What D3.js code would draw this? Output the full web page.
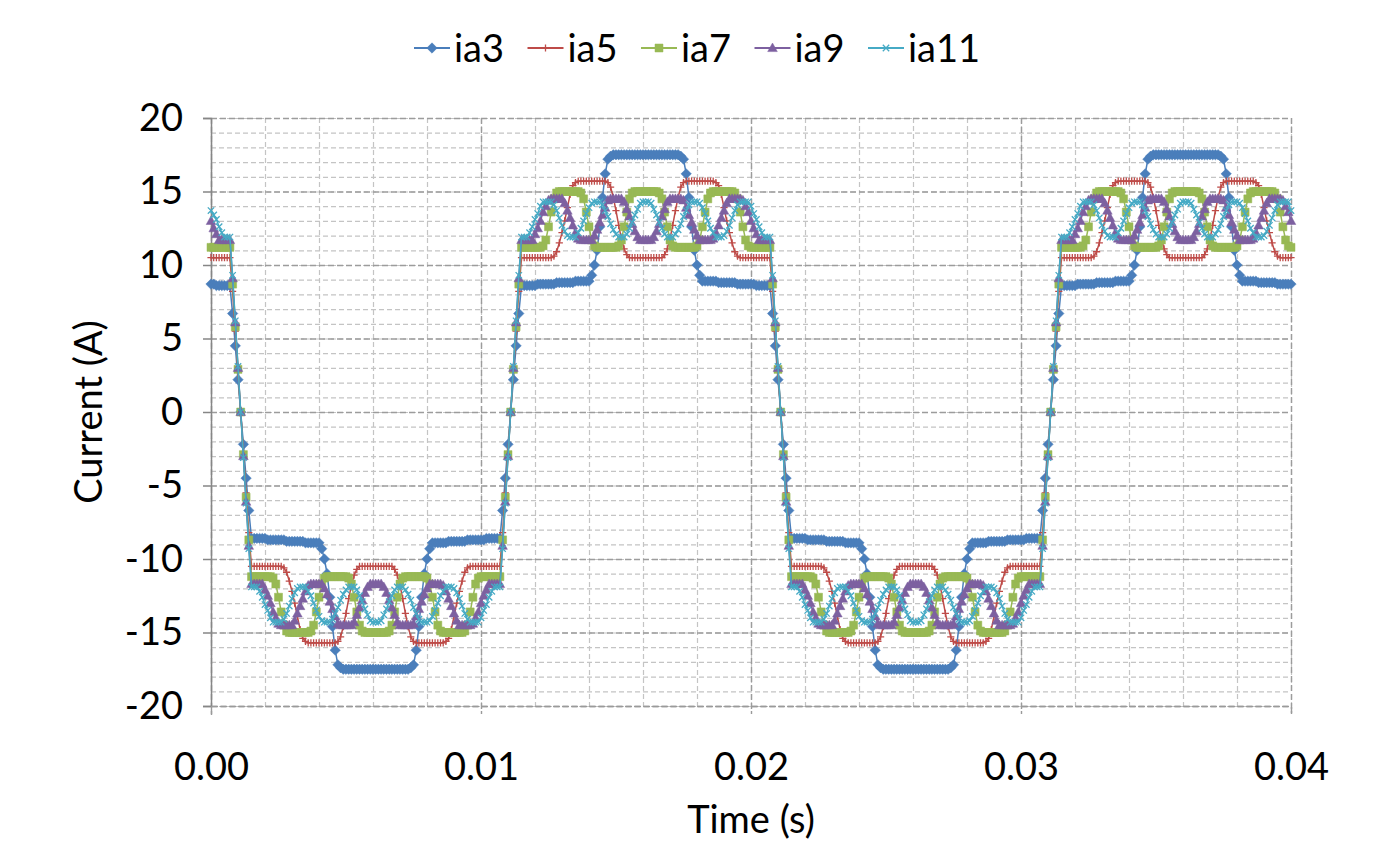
<!DOCTYPE html>
<html>
<head>
<meta charset="utf-8">
<script src="https://cdnjs.cloudflare.com/ajax/libs/d3/7.8.5/d3.min.js"></script>
<style>
  body { margin: 0; background: #fff; }
  text { font-family: Lato, "Open Sans", sans-serif; fill: #000; }
</style>
</head>
<body>
<div id="plot"></div>
<script>
// sample grid: 0 .. 0.04 s, step 0.1 ms
const dt = 0.0001;
const time = d3.range(401).map(i => +(i * dt).toFixed(4));

const ia3 = [
8.7,8.7,8.6,8.6,8.6,8.6,8.6,8.6,6.7,4.5,2.2,
0,-2.2,-4.5,-6.7,-8.6,-8.6,-8.6,-8.6,-8.6,-8.6,-8.7,-8.7,-8.7,-8.7,-8.7,-8.7,-8.7,-8.8,-8.8,-8.8,-8.8,-8.8,-8.8,-8.8,-8.9,-8.9,-8.9,-8.9,-8.9,-8.9,-9.3,-10,-11,-12.6,-14.6,-16.2,-17.2,-17.4,-17.5,-17.5,-17.5,-17.5,-17.5,-17.5,-17.5,-17.5,-17.5,-17.5,-17.5,-17.5,-17.5,
-17.5,-17.5,-17.5,-17.5,-17.5,-17.5,-17.5,-17.5,-17.5,-17.5,-17.5,-17.5,-17.4,-17.2,-16.2,-14.6,-12.6,-11,-10,-9.3,-8.9,-8.9,-8.9,-8.9,-8.9,-8.9,-8.8,-8.8,-8.8,-8.8,-8.8,-8.8,-8.8,-8.7,-8.7,-8.7,-8.7,-8.7,-8.7,-8.7,-8.6,-8.6,-8.6,-8.6,-8.6,-8.6,-6.7,-4.5,-2.2,
0,2.2,4.5,6.7,8.6,8.6,8.6,8.6,8.6,8.6,8.7,8.7,8.7,8.7,8.7,8.7,8.7,8.8,8.8,8.8,8.8,8.8,8.8,8.8,8.9,8.9,8.9,8.9,8.9,8.9,9.3,10,11,12.6,14.6,16.2,17.2,17.4,17.5,17.5,17.5,17.5,17.5,17.5,17.5,17.5,17.5,17.5,17.5,17.5,17.5,
17.5,17.5,17.5,17.5,17.5,17.5,17.5,17.5,17.5,17.5,17.5,17.5,17.4,17.2,16.2,14.6,12.6,11,10,9.3,8.9,8.9,8.9,8.9,8.9,8.9,8.8,8.8,8.8,8.8,8.8,8.8,8.8,8.7,8.7,8.7,8.7,8.7,8.7,8.7,8.6,8.6,8.6,8.6,8.6,8.6,6.7,4.5,2.2,
0,-2.2,-4.5,-6.7,-8.6,-8.6,-8.6,-8.6,-8.6,-8.6,-8.7,-8.7,-8.7,-8.7,-8.7,-8.7,-8.7,-8.8,-8.8,-8.8,-8.8,-8.8,-8.8,-8.8,-8.9,-8.9,-8.9,-8.9,-8.9,-8.9,-9.3,-10,-11,-12.6,-14.6,-16.2,-17.2,-17.4,-17.5,-17.5,-17.5,-17.5,-17.5,-17.5,-17.5,-17.5,-17.5,-17.5,-17.5,-17.5,-17.5,
-17.5,-17.5,-17.5,-17.5,-17.5,-17.5,-17.5,-17.5,-17.5,-17.5,-17.5,-17.5,-17.4,-17.2,-16.2,-14.6,-12.6,-11,-10,-9.3,-8.9,-8.9,-8.9,-8.9,-8.9,-8.9,-8.8,-8.8,-8.8,-8.8,-8.8,-8.8,-8.8,-8.7,-8.7,-8.7,-8.7,-8.7,-8.7,-8.7,-8.6,-8.6,-8.6,-8.6,-8.6,-8.6,-6.7,-4.5,-2.2,
0,2.2,4.5,6.7,8.6,8.6,8.6,8.6,8.6,8.6,8.7,8.7,8.7,8.7,8.7,8.7,8.7,8.8,8.8,8.8,8.8,8.8,8.8,8.8,8.9,8.9,8.9,8.9,8.9,8.9,9.3,10,11,12.6,14.6,16.2,17.2,17.4,17.5,17.5,17.5,17.5,17.5,17.5,17.5,17.5,17.5,17.5,17.5,17.5,17.5,
17.5,17.5,17.5,17.5,17.5,17.5,17.5,17.5,17.5,17.5,17.5,17.5,17.4,17.2,16.2,14.6,12.6,11,10,9.3,8.9,8.9,8.9,8.9,8.9,8.9,8.8,8.8,8.8,8.8,8.8,8.8,8.8,8.7,8.7,8.7,8.7,8.7,8.7
];

const ia5 = [
10.5,10.5,10.5,10.5,10.5,10.5,10.5,10.5,8.2,5.5,2.7,
0,-2.7,-5.5,-8.2,-10.5,-10.5,-10.5,-10.5,-10.5,-10.5,-10.5,-10.5,-10.5,-10.5,-10.5,-10.5,-10.6,-10.9,-11.5,-12.2,-13,-13.9,-14.8,-15.4,-15.6,-15.7,-15.7,-15.7,-15.7,-15.7,-15.7,-15.7,-15.7,-15.7,-15.7,-15.7,-15.6,-15.3,-14.6,-13.7,-12.7,-11.8,-11.1,-10.7,-10.5,-10.5,-10.5,-10.5,-10.5,-10.5,-10.5,
-10.5,-10.5,-10.5,-10.5,-10.5,-10.5,-10.7,-11.1,-11.8,-12.7,-13.7,-14.6,-15.3,-15.6,-15.7,-15.7,-15.7,-15.7,-15.7,-15.7,-15.7,-15.7,-15.7,-15.7,-15.7,-15.6,-15.4,-14.8,-13.9,-13,-12.2,-11.5,-10.9,-10.6,-10.5,-10.5,-10.5,-10.5,-10.5,-10.5,-10.5,-10.5,-10.5,-10.5,-10.5,-10.5,-8.2,-5.5,-2.7,
0,2.7,5.5,8.2,10.5,10.5,10.5,10.5,10.5,10.5,10.5,10.5,10.5,10.5,10.5,10.5,10.6,10.9,11.5,12.2,13,13.9,14.8,15.4,15.6,15.7,15.7,15.7,15.7,15.7,15.7,15.7,15.7,15.7,15.7,15.7,15.6,15.3,14.6,13.7,12.7,11.8,11.1,10.7,10.5,10.5,10.5,10.5,10.5,10.5,10.5,
10.5,10.5,10.5,10.5,10.5,10.5,10.7,11.1,11.8,12.7,13.7,14.6,15.3,15.6,15.7,15.7,15.7,15.7,15.7,15.7,15.7,15.7,15.7,15.7,15.7,15.6,15.4,14.8,13.9,13,12.2,11.5,10.9,10.6,10.5,10.5,10.5,10.5,10.5,10.5,10.5,10.5,10.5,10.5,10.5,10.5,8.2,5.5,2.7,
0,-2.7,-5.5,-8.2,-10.5,-10.5,-10.5,-10.5,-10.5,-10.5,-10.5,-10.5,-10.5,-10.5,-10.5,-10.5,-10.6,-10.9,-11.5,-12.2,-13,-13.9,-14.8,-15.4,-15.6,-15.7,-15.7,-15.7,-15.7,-15.7,-15.7,-15.7,-15.7,-15.7,-15.7,-15.7,-15.6,-15.3,-14.6,-13.7,-12.7,-11.8,-11.1,-10.7,-10.5,-10.5,-10.5,-10.5,-10.5,-10.5,-10.5,
-10.5,-10.5,-10.5,-10.5,-10.5,-10.5,-10.7,-11.1,-11.8,-12.7,-13.7,-14.6,-15.3,-15.6,-15.7,-15.7,-15.7,-15.7,-15.7,-15.7,-15.7,-15.7,-15.7,-15.7,-15.7,-15.6,-15.4,-14.8,-13.9,-13,-12.2,-11.5,-10.9,-10.6,-10.5,-10.5,-10.5,-10.5,-10.5,-10.5,-10.5,-10.5,-10.5,-10.5,-10.5,-10.5,-8.2,-5.5,-2.7,
0,2.7,5.5,8.2,10.5,10.5,10.5,10.5,10.5,10.5,10.5,10.5,10.5,10.5,10.5,10.5,10.6,10.9,11.5,12.2,13,13.9,14.8,15.4,15.6,15.7,15.7,15.7,15.7,15.7,15.7,15.7,15.7,15.7,15.7,15.7,15.6,15.3,14.6,13.7,12.7,11.8,11.1,10.7,10.5,10.5,10.5,10.5,10.5,10.5,10.5,
10.5,10.5,10.5,10.5,10.5,10.5,10.7,11.1,11.8,12.7,13.7,14.6,15.3,15.6,15.7,15.7,15.7,15.7,15.7,15.7,15.7,15.7,15.7,15.7,15.7,15.6,15.4,14.8,13.9,13,12.2,11.5,10.9,10.6,10.5,10.5,10.5,10.5,10.5
];

const ia7 = [
11.2,11.2,11.2,11.2,11.2,11.2,11.2,11.2,8.7,5.8,2.9,
0,-2.9,-5.8,-8.7,-11.2,-11.2,-11.2,-11.2,-11.2,-11.2,-11.2,-11.2,-11.3,-11.7,-12.6,-13.6,-14.5,-14.9,-15,-15,-15,-15,-15,-15,-15,-15,-14.9,-14.5,-13.6,-12.6,-11.7,-11.3,-11.2,-11.2,-11.2,-11.2,-11.2,-11.2,-11.2,-11.2,-11.3,-11.7,-12.6,-13.6,-14.5,-14.9,-15,-15,-15,-15,-15,
-15,-15,-15,-15,-14.9,-14.5,-13.6,-12.6,-11.7,-11.3,-11.2,-11.2,-11.2,-11.2,-11.2,-11.2,-11.2,-11.2,-11.3,-11.7,-12.6,-13.6,-14.5,-14.9,-15,-15,-15,-15,-15,-15,-15,-15,-14.9,-14.5,-13.6,-12.6,-11.7,-11.3,-11.2,-11.2,-11.2,-11.2,-11.2,-11.2,-11.2,-11.2,-8.7,-5.8,-2.9,
0,2.9,5.8,8.7,11.2,11.2,11.2,11.2,11.2,11.2,11.2,11.2,11.3,11.7,12.6,13.6,14.5,14.9,15,15,15,15,15,15,15,15,14.9,14.5,13.6,12.6,11.7,11.3,11.2,11.2,11.2,11.2,11.2,11.2,11.2,11.2,11.3,11.7,12.6,13.6,14.5,14.9,15,15,15,15,15,
15,15,15,15,14.9,14.5,13.6,12.6,11.7,11.3,11.2,11.2,11.2,11.2,11.2,11.2,11.2,11.2,11.3,11.7,12.6,13.6,14.5,14.9,15,15,15,15,15,15,15,15,14.9,14.5,13.6,12.6,11.7,11.3,11.2,11.2,11.2,11.2,11.2,11.2,11.2,11.2,8.7,5.8,2.9,
0,-2.9,-5.8,-8.7,-11.2,-11.2,-11.2,-11.2,-11.2,-11.2,-11.2,-11.2,-11.3,-11.7,-12.6,-13.6,-14.5,-14.9,-15,-15,-15,-15,-15,-15,-15,-15,-14.9,-14.5,-13.6,-12.6,-11.7,-11.3,-11.2,-11.2,-11.2,-11.2,-11.2,-11.2,-11.2,-11.2,-11.3,-11.7,-12.6,-13.6,-14.5,-14.9,-15,-15,-15,-15,-15,
-15,-15,-15,-15,-14.9,-14.5,-13.6,-12.6,-11.7,-11.3,-11.2,-11.2,-11.2,-11.2,-11.2,-11.2,-11.2,-11.2,-11.3,-11.7,-12.6,-13.6,-14.5,-14.9,-15,-15,-15,-15,-15,-15,-15,-15,-14.9,-14.5,-13.6,-12.6,-11.7,-11.3,-11.2,-11.2,-11.2,-11.2,-11.2,-11.2,-11.2,-11.2,-8.7,-5.8,-2.9,
0,2.9,5.8,8.7,11.2,11.2,11.2,11.2,11.2,11.2,11.2,11.2,11.3,11.7,12.6,13.6,14.5,14.9,15,15,15,15,15,15,15,15,14.9,14.5,13.6,12.6,11.7,11.3,11.2,11.2,11.2,11.2,11.2,11.2,11.2,11.2,11.3,11.7,12.6,13.6,14.5,14.9,15,15,15,15,15,
15,15,15,15,14.9,14.5,13.6,12.6,11.7,11.3,11.2,11.2,11.2,11.2,11.2,11.2,11.2,11.2,11.3,11.7,12.6,13.6,14.5,14.9,15,15,15,15,15,15,15,15,14.9,14.5,13.6,12.6,11.7,11.3,11.2
];

const ia9 = [
13,12.5,12.1,11.7,11.7,11.7,11.7,11.7,9.1,6.1,3,
0,-3,-6.1,-9.1,-11.7,-11.7,-11.7,-11.7,-11.7,-12.1,-12.5,-13,-13.6,-14,-14.4,-14.5,-14.5,-14.5,-14.5,-14.5,-14.2,-13.7,-13.2,-12.7,-12.2,-11.8,-11.7,-11.7,-11.7,-11.7,-11.7,-12,-12.4,-12.9,-13.4,-13.9,-14.4,-14.5,-14.5,-14.5,-14.5,-14.5,-14.3,-13.8,-13.3,-12.8,-12.3,-11.9,-11.7,-11.7,-11.7,
-11.7,-11.7,-11.9,-12.3,-12.8,-13.3,-13.8,-14.3,-14.5,-14.5,-14.5,-14.5,-14.5,-14.4,-13.9,-13.4,-12.9,-12.4,-12,-11.7,-11.7,-11.7,-11.7,-11.7,-11.8,-12.2,-12.7,-13.2,-13.7,-14.2,-14.5,-14.5,-14.5,-14.5,-14.5,-14.4,-14,-13.6,-13,-12.5,-12.1,-11.7,-11.7,-11.7,-11.7,-11.7,-9.1,-6.1,-3,
0,3,6.1,9.1,11.7,11.7,11.7,11.7,11.7,12.1,12.5,13,13.6,14,14.4,14.5,14.5,14.5,14.5,14.5,14.2,13.7,13.2,12.7,12.2,11.8,11.7,11.7,11.7,11.7,11.7,12,12.4,12.9,13.4,13.9,14.4,14.5,14.5,14.5,14.5,14.5,14.3,13.8,13.3,12.8,12.3,11.9,11.7,11.7,11.7,
11.7,11.7,11.9,12.3,12.8,13.3,13.8,14.3,14.5,14.5,14.5,14.5,14.5,14.4,13.9,13.4,12.9,12.4,12,11.7,11.7,11.7,11.7,11.7,11.8,12.2,12.7,13.2,13.7,14.2,14.5,14.5,14.5,14.5,14.5,14.4,14,13.6,13,12.5,12.1,11.7,11.7,11.7,11.7,11.7,9.1,6.1,3,
0,-3,-6.1,-9.1,-11.7,-11.7,-11.7,-11.7,-11.7,-12.1,-12.5,-13,-13.6,-14,-14.4,-14.5,-14.5,-14.5,-14.5,-14.5,-14.2,-13.7,-13.2,-12.7,-12.2,-11.8,-11.7,-11.7,-11.7,-11.7,-11.7,-12,-12.4,-12.9,-13.4,-13.9,-14.4,-14.5,-14.5,-14.5,-14.5,-14.5,-14.3,-13.8,-13.3,-12.8,-12.3,-11.9,-11.7,-11.7,-11.7,
-11.7,-11.7,-11.9,-12.3,-12.8,-13.3,-13.8,-14.3,-14.5,-14.5,-14.5,-14.5,-14.5,-14.4,-13.9,-13.4,-12.9,-12.4,-12,-11.7,-11.7,-11.7,-11.7,-11.7,-11.8,-12.2,-12.7,-13.2,-13.7,-14.2,-14.5,-14.5,-14.5,-14.5,-14.5,-14.4,-14,-13.6,-13,-12.5,-12.1,-11.7,-11.7,-11.7,-11.7,-11.7,-9.1,-6.1,-3,
0,3,6.1,9.1,11.7,11.7,11.7,11.7,11.7,12.1,12.5,13,13.6,14,14.4,14.5,14.5,14.5,14.5,14.5,14.2,13.7,13.2,12.7,12.2,11.8,11.7,11.7,11.7,11.7,11.7,12,12.4,12.9,13.4,13.9,14.4,14.5,14.5,14.5,14.5,14.5,14.3,13.8,13.3,12.8,12.3,11.9,11.7,11.7,11.7,
11.7,11.7,11.9,12.3,12.8,13.3,13.8,14.3,14.5,14.5,14.5,14.5,14.5,14.4,13.9,13.4,12.9,12.4,12,11.7,11.7,11.7,11.7,11.7,11.8,12.2,12.7,13.2,13.7,14.2,14.5,14.5,14.5,14.5,14.5,14.4,14,13.6,13
];

const ia11 = [
13.7,13.4,13.1,12.6,12.2,11.9,11.9,11.9,9.3,6.2,3.1,
0,-3.1,-6.2,-9.3,-11.9,-11.9,-11.9,-12.2,-12.6,-13.1,-13.5,-14,-14.3,-14.3,-14.3,-14.3,-14.1,-13.7,-13.2,-12.7,-12.3,-12,-11.9,-11.9,-11.9,-12.2,-12.5,-13,-13.5,-13.9,-14.2,-14.3,-14.3,-14.3,-14.1,-13.7,-13.3,-12.8,-12.4,-12.1,-11.9,-11.9,-11.9,-12.1,-12.5,-12.9,-13.4,-13.8,-14.2,-14.3,-14.3,
-14.3,-14.2,-13.8,-13.4,-12.9,-12.5,-12.1,-11.9,-11.9,-11.9,-12.1,-12.4,-12.8,-13.3,-13.7,-14.1,-14.3,-14.3,-14.3,-14.2,-13.9,-13.5,-13,-12.5,-12.2,-11.9,-11.9,-11.9,-12,-12.3,-12.7,-13.2,-13.7,-14.1,-14.3,-14.3,-14.3,-14.3,-14,-13.5,-13.1,-12.6,-12.2,-11.9,-11.9,-11.9,-9.3,-6.2,-3.1,
0,3.1,6.2,9.3,11.9,11.9,11.9,12.2,12.6,13.1,13.5,14,14.3,14.3,14.3,14.3,14.1,13.7,13.2,12.7,12.3,12,11.9,11.9,11.9,12.2,12.5,13,13.5,13.9,14.2,14.3,14.3,14.3,14.1,13.7,13.3,12.8,12.4,12.1,11.9,11.9,11.9,12.1,12.5,12.9,13.4,13.8,14.2,14.3,14.3,
14.3,14.2,13.8,13.4,12.9,12.5,12.1,11.9,11.9,11.9,12.1,12.4,12.8,13.3,13.7,14.1,14.3,14.3,14.3,14.2,13.9,13.5,13,12.5,12.2,11.9,11.9,11.9,12,12.3,12.7,13.2,13.7,14.1,14.3,14.3,14.3,14.3,14,13.5,13.1,12.6,12.2,11.9,11.9,11.9,9.3,6.2,3.1,
0,-3.1,-6.2,-9.3,-11.9,-11.9,-11.9,-12.2,-12.6,-13.1,-13.5,-14,-14.3,-14.3,-14.3,-14.3,-14.1,-13.7,-13.2,-12.7,-12.3,-12,-11.9,-11.9,-11.9,-12.2,-12.5,-13,-13.5,-13.9,-14.2,-14.3,-14.3,-14.3,-14.1,-13.7,-13.3,-12.8,-12.4,-12.1,-11.9,-11.9,-11.9,-12.1,-12.5,-12.9,-13.4,-13.8,-14.2,-14.3,-14.3,
-14.3,-14.2,-13.8,-13.4,-12.9,-12.5,-12.1,-11.9,-11.9,-11.9,-12.1,-12.4,-12.8,-13.3,-13.7,-14.1,-14.3,-14.3,-14.3,-14.2,-13.9,-13.5,-13,-12.5,-12.2,-11.9,-11.9,-11.9,-12,-12.3,-12.7,-13.2,-13.7,-14.1,-14.3,-14.3,-14.3,-14.3,-14,-13.5,-13.1,-12.6,-12.2,-11.9,-11.9,-11.9,-9.3,-6.2,-3.1,
0,3.1,6.2,9.3,11.9,11.9,11.9,12.2,12.6,13.1,13.5,14,14.3,14.3,14.3,14.3,14.1,13.7,13.2,12.7,12.3,12,11.9,11.9,11.9,12.2,12.5,13,13.5,13.9,14.2,14.3,14.3,14.3,14.1,13.7,13.3,12.8,12.4,12.1,11.9,11.9,11.9,12.1,12.5,12.9,13.4,13.8,14.2,14.3,14.3,
14.3,14.2,13.8,13.4,12.9,12.5,12.1,11.9,11.9,11.9,12.1,12.4,12.8,13.3,13.7,14.1,14.3,14.3,14.3,14.2,13.9,13.5,13,12.5,12.2,11.9,11.9,11.9,12,12.3,12.7,13.2,13.7,14.1,14.3,14.3,14.3,14.3,13.7
];

const seriesNames = ["ia3", "ia5", "ia7", "ia9", "ia11"];
const seriesValues = [ia3, ia5, ia7, ia9, ia11];
const seriesColors = ["#4A7EBB", "#BE4B48", "#98B954", "#7D60A0", "#46AAC5"];
const seriesMarkers = ["diamond", "plus", "square", "triangle", "cross"];

const xTicks = [0, 0.01, 0.02, 0.03, 0.04];
const yTicks = [-20, -15, -10, -5, 0, 5, 10, 15, 20];

const bad = seriesValues.map((s, k) => seriesNames[k] + ":" + s.length).filter((d, k) => seriesValues[k].length !== time.length);
if (bad.length) throw new Error("length mismatch " + bad.join(" "));

const w = 1385;
const h = 847;
const margin = {top: 118, right: 94, bottom: 141, left: 211};
const innerWidth = w - margin.left - margin.right;
const innerHeight = h - margin.top - margin.bottom;

const svg = d3.select("#plot")
  .append("svg")
    .attr("width", w)
    .attr("height", h);

const xScale = d3.scaleLinear()
    .domain([0, 0.04])
    .range([margin.left, w - margin.right]);

const yScale = d3.scaleLinear()
    .domain([-20, 20])
    .range([h - margin.bottom, margin.top]);

// minor grid
const gMinorX = svg.append("g")
    .attr("transform", `translate(0, ${margin.top})`)
    .call(d3.axisTop(xScale).tickValues(xScale.ticks(20)).tickSize(-innerHeight));
const gMinorY = svg.append("g")
    .attr("transform", `translate(${margin.left}, 0)`)
    .call(d3.axisLeft(yScale).tickValues(yScale.ticks(40)).tickSize(-innerWidth));
[gMinorX, gMinorY].forEach(g => {
  g.select(".domain").remove();
  g.selectAll("text").remove();
  g.selectAll("line")
    .attr("stroke", "#c4c4c4")
    .attr("stroke-width", 1.2)
    .attr("stroke-dasharray", "5,3");
});

// major grid
const gMajorX = svg.append("g")
    .attr("transform", `translate(0, ${margin.top})`)
    .call(d3.axisTop(xScale).tickValues(xTicks).tickSize(-innerHeight));
const gMajorY = svg.append("g")
    .attr("transform", `translate(${margin.left}, 0)`)
    .call(d3.axisLeft(yScale).tickValues(yTicks).tickSize(-innerWidth));
[gMajorX, gMajorY].forEach(g => {
  g.select(".domain").remove();
  g.selectAll("text").remove();
  g.selectAll("line")
    .attr("stroke", "#9c9c9c")
    .attr("stroke-width", 1.4)
    .attr("stroke-dasharray", "6,3");
});

// axes
const yAxis = svg.append("g")
    .attr("transform", `translate(${margin.left}, 0)`)
    .call(d3.axisLeft(yScale).tickValues(yTicks).tickSize(8).tickPadding(20).tickFormat(d => String(d)));
yAxis.select(".domain").attr("stroke", "#868686").attr("stroke-width", 1.5);
yAxis.selectAll(".tick line").attr("stroke", "#868686").attr("stroke-width", 1.5);
yAxis.selectAll(".tick text")
    .attr("font-family", "Lato, 'Open Sans', sans-serif")
    .attr("font-size", 38)
    .attr("fill", "#000");

const xAxis = svg.append("g")
    .attr("transform", `translate(0, ${h - margin.bottom})`)
    .call(d3.axisBottom(xScale).tickValues(xTicks).tickSize(9).tickPadding(38).tickFormat(d3.format(".2f")));
xAxis.select(".domain").attr("stroke", "#9a9a9a").attr("stroke-width", 1.4).attr("stroke-dasharray", "6,3");
xAxis.selectAll(".tick line").attr("stroke", "#9a9a9a").attr("stroke-width", 1.4).attr("stroke-dasharray", "3,2");
xAxis.selectAll(".tick text")
    .attr("font-family", "Lato, 'Open Sans', sans-serif")
    .attr("font-size", 38)
    .attr("fill", "#000");

// axis titles
svg.append("text")
    .attr("x", margin.left + innerWidth / 2)
    .attr("y", 833)
    .attr("text-anchor", "middle")
    .attr("font-size", 38)
    .text("Time (s)");

svg.append("text")
    .attr("transform", `translate(102, ${margin.top + innerHeight / 2}) rotate(-90)`)
    .attr("text-anchor", "middle")
    .attr("font-size", 38)
    .text("Current (A)");

// marker shapes
const markerPath = {
  diamond: "M0,-5.2L5.2,0L0,5.2L-5.2,0Z",
  square: "M-4,-4H4V4H-4Z",
  triangle: "M0,-5L4.8,3.6H-4.8Z",
  plus: "M-3.6,0H3.6M0,-3.6V3.6",
  cross: "M-3.2,-3.2L3.2,3.2M-3.2,3.2L3.2,-3.2"
};
const isStroke = m => m === "plus" || m === "cross";

const line = d3.line()
    .x(d => xScale(d.t))
    .y(d => yScale(d.v));

seriesNames.forEach((name, k) => {
  const pts = time.map((t, i) => ({t: t, v: seriesValues[k][i]}));
  const g = svg.append("g").attr("class", "series " + name);
  g.append("path")
      .datum(pts)
      .attr("d", line)
      .attr("fill", "none")
      .attr("stroke", seriesColors[k])
      .attr("stroke-width", 1.5);
  const m = seriesMarkers[k];
  g.selectAll("path.mk")
    .data(pts)
    .enter().append("path")
      .attr("class", "mk")
      .attr("transform", d => `translate(${xScale(d.t)}, ${yScale(d.v)})`)
      .attr("d", markerPath[m])
      .attr("fill", isStroke(m) ? "none" : seriesColors[k])
      .attr("stroke", seriesColors[k])
      .attr("stroke-width", isStroke(m) ? 1.3 : 0.5);
});

// legend
const legendX = 414;
const legendStep = 113.5;
const legendY = 48;
const legend = svg.append("g");
seriesNames.forEach((name, k) => {
  const x0 = legendX + k * legendStep;
  const m = seriesMarkers[k];
  legend.append("line")
      .attr("x1", x0).attr("x2", x0 + 36)
      .attr("y1", legendY).attr("y2", legendY)
      .attr("stroke", seriesColors[k])
      .attr("stroke-width", 1.8);
  legend.append("path")
      .attr("transform", `translate(${x0 + 18}, ${legendY})`)
      .attr("d", markerPath[m])
      .attr("fill", isStroke(m) ? "none" : seriesColors[k])
      .attr("stroke", seriesColors[k])
      .attr("stroke-width", isStroke(m) ? 1.3 : 0.5);
  legend.append("text")
      .attr("x", x0 + 40)
      .attr("y", legendY + 14)
      .attr("font-size", 38)
      .text(name);
});
</script>
</body>
</html>
